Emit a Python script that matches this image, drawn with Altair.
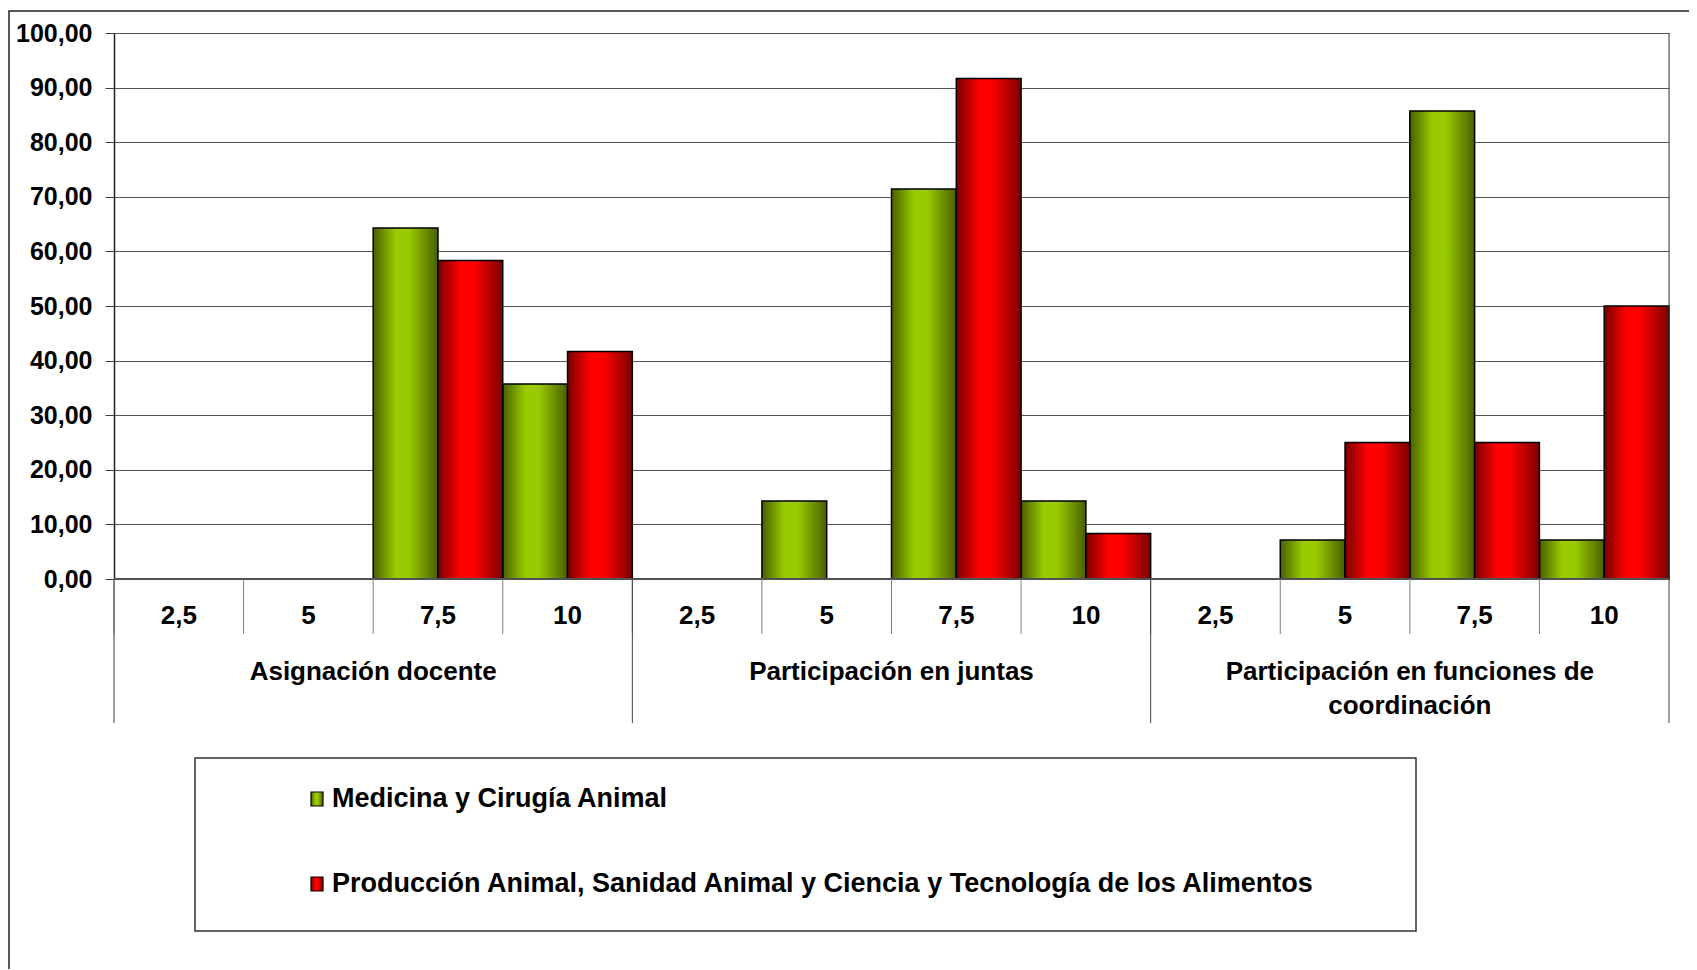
import altair as alt
import pandas as pd

# ---------------- data ----------------
groups = ["Asignación docente", "Participación en juntas", "Participación en funciones de\ncoordinación"]
scores = ["2,5", "5", "7,5", "10"]
series = ["Medicina y Cirugía Animal",
          "Producción Animal, Sanidad Animal y Ciencia y Tecnología de los Alimentos"]
medicina = [0, 0, 64.29, 35.71, 0, 14.29, 71.43, 14.29, 0, 7.14, 85.71, 7.14]
produccion = [0, 0, 58.33, 41.67, 0, 0, 91.67, 8.33, 0, 25.00, 25.00, 50.00]
y_ticks = [0, 10, 20, 30, 40, 50, 60, 70, 80, 90, 100]

cats = [f"{gi}|{s}" for gi in range(len(groups)) for s in scores]

rows = []
for i, c in enumerate(cats):
    rows.append({"cat": c, "serie": series[0], "valor": medicina[i]})
    rows.append({"cat": c, "serie": series[1], "valor": produccion[i]})
bars_df = pd.DataFrame(rows)

sep_df = pd.DataFrame({"cat": cats,
                       "label": [c.split("|")[1] for c in cats],
                       "first": [c.endswith("|" + scores[0]) for c in cats]})
grp_df = pd.DataFrame({"cat": [f"{gi}|{scores[1]}" for gi in range(len(groups))], "label": groups})
one = pd.DataFrame({"k": [0]})

W, H = 1555, 546
FONT = "Liberation Sans"

def grad(dark, bright):
    return alt.Gradient(
        gradient="linear", x1=0, x2=1, y1=0, y2=0,
        stops=[alt.GradientStop(offset=0, color=dark),
               alt.GradientStop(offset=0.35, color=bright),
               alt.GradientStop(offset=0.55, color=bright),
               alt.GradientStop(offset=1, color=dark)])

fills = [grad("#4a5f00", "#99cc00"), grad("#7a0000", "#ff0000")]

xscale = alt.Scale(domain=cats, paddingInner=0, paddingOuter=0)
xoff_scale = alt.Scale(domain=series, paddingInner=0, paddingOuter=0)
yscale = alt.Scale(domain=[0, 100], nice=False)

x_axis = alt.Axis(labels=False, ticks=False, domain=False, grid=False)
y_axis = alt.Axis(
    values=y_ticks, labelExpr="replace(format(datum.value, '.2f'), '.', ',')",
    tickSize=9, tickColor="#404040", labelPadding=13, labelFontSize=25, labelFontWeight="bold",
    labelFont=FONT, labelColor="black", domainColor="#202020", domainWidth=1.5,
    grid=True, gridColor="#555555", gridWidth=1)

frame = alt.Chart(one).mark_rect(fillOpacity=0, stroke="#222222", strokeWidth=1.5).encode(
    x=alt.value(-105), x2=alt.value(W + 80), y=alt.value(-22), y2=alt.value(H + 600))

def bar_layer(i):
    return alt.Chart(bars_df).transform_filter(
        alt.datum.serie == series[i]).transform_filter("datum.valor > 0").mark_bar(
        fill=fills[i], stroke="black", strokeWidth=1.5).encode(
        x=alt.X("cat:N", scale=xscale, axis=x_axis, title=None, sort=cats),
        xOffset=alt.XOffset("serie:N", scale=xoff_scale),
        y=alt.Y("valor:Q", scale=yscale, axis=y_axis, title=None))

zero_line = alt.Chart(one).mark_rule(color="#505050", strokeWidth=2).encode(
    x=alt.value(0), x2=alt.value(W), y=alt.value(H))

sub_rules = alt.Chart(sep_df).mark_rule(color="#808080", strokeWidth=1).encode(
    x=alt.X("cat:N", scale=xscale, bandPosition=0, axis=None, sort=cats),
    y=alt.value(H), y2=alt.value(H + 55))
grp_rules = alt.Chart(sep_df).transform_filter("datum.first").mark_rule(
    color="#404040", strokeWidth=1).encode(
    x=alt.X("cat:N", scale=xscale, bandPosition=0, axis=None, sort=cats),
    y=alt.value(H), y2=alt.value(H + 144))
end_rule = alt.Chart(pd.DataFrame({"cat": [cats[-1]]})).mark_rule(
    color="#404040", strokeWidth=1).encode(
    x=alt.X("cat:N", scale=xscale, bandPosition=1, axis=None, sort=cats),
    y=alt.value(0), y2=alt.value(H + 144))

sub_text = alt.Chart(sep_df).mark_text(
    font=FONT, fontSize=26, fontWeight="bold", baseline="middle", align="center",
    color="black").encode(
    x=alt.X("cat:N", scale=xscale, bandPosition=0.5, axis=None, sort=cats),
    y=alt.value(H + 37), text="label:N")

grp_text = alt.Chart(grp_df).mark_text(
    font=FONT, fontSize=26, fontWeight="bold", lineBreak="\n", lineHeight=34,
    baseline="alphabetic", align="center", color="black").encode(
    x=alt.X("cat:N", scale=xscale, bandPosition=1, axis=None, sort=cats),
    y=alt.value(647), text="label:N")

legend_box = alt.Chart(one).mark_rect(fill="white", stroke="#333333", strokeWidth=1.5).encode(
    x=alt.value(81), x2=alt.value(1302), y=alt.value(725), y2=alt.value(898))

legend_layers = []
for i, yc in enumerate([766, 851]):
    legend_layers.append(alt.Chart(one).mark_rect(fill=fills[i], stroke="black", strokeWidth=1.2).encode(
        x=alt.value(197), x2=alt.value(209), y=alt.value(yc - 7), y2=alt.value(yc + 7)))
    legend_layers.append(alt.Chart(one).mark_text(
        font=FONT, fontSize=27, fontWeight="bold", align="left", baseline="middle", color="black").encode(
        x=alt.value(218), y=alt.value(yc), text=alt.value(series[i])))

chart = alt.layer(
    frame, bar_layer(0), bar_layer(1), zero_line, sub_rules, grp_rules, end_rule,
    sub_text, grp_text, legend_box, *legend_layers
).properties(
    width=W, height=H,
    autosize=alt.AutoSizeParams(type="none"),
    padding={"left": 106, "top": 25, "right": 20, "bottom": 390},
).configure_view(stroke="#808080", strokeWidth=1).configure(font=FONT)

chart.save("out.html", embed_options={"renderer": "svg", "actions": False})
